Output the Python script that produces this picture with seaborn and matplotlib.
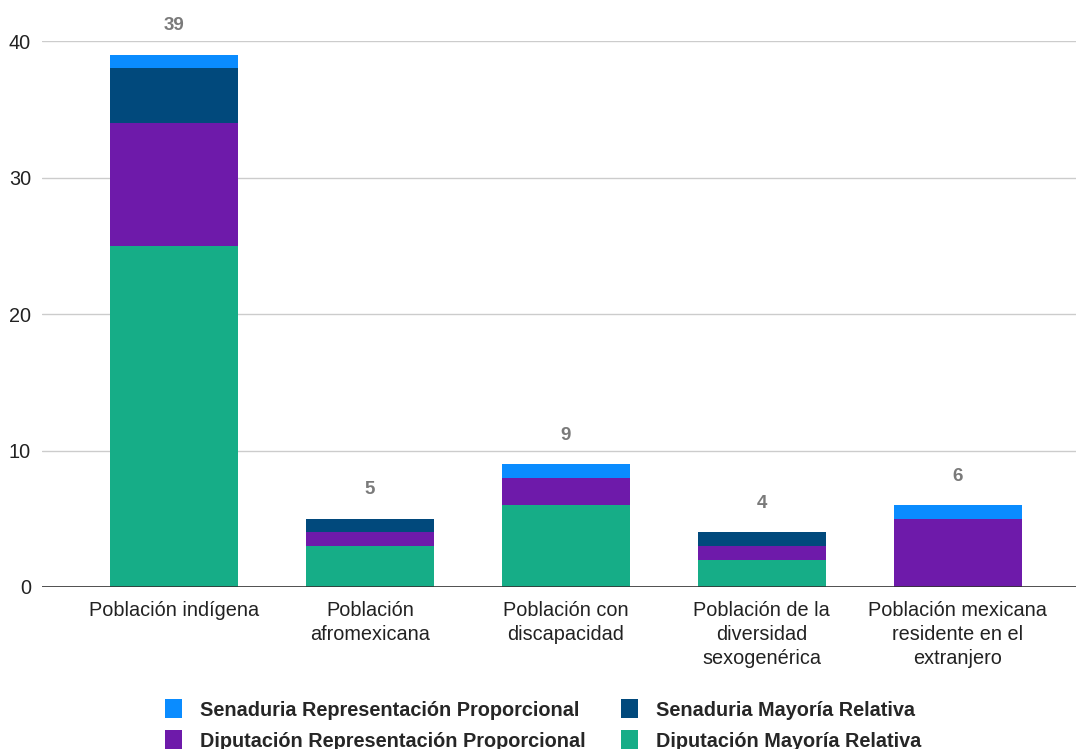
import matplotlib
matplotlib.use("Agg")
import matplotlib.pyplot as plt
import seaborn as sns
import pandas as pd
import numpy as np

categories = [
    "Población indígena",
    "Población\nafromexicana",
    "Población con\ndiscapacidad",
    "Población de la\ndiversidad\nsexogenérica",
    "Población mexicana\nresidente en el\nextranjero",
]
series = [
    "Diputación Mayoría Relativa",
    "Diputación Representación Proporcional",
    "Senaduria Mayoría Relativa",
    "Senaduria Representación Proporcional",
]
dip_mr = [25, 3, 6, 2, 0]
dip_rp = [9, 1, 2, 1, 5]
sen_mr = [4, 1, 0, 1, 0]
sen_rp = [1, 0, 1, 0, 1]
colors = ["#16AD87", "#6E1AAA", "#01497C", "#0A8CFF"]

sns.set_theme(style="white")
plt.rcParams["font.family"] = ["Liberation Sans", "DejaVu Sans"]

values = np.array([dip_mr, dip_rp, sen_mr, sen_rp])
cum = values.cumsum(axis=0)
totals = cum[-1]

fig = plt.figure(figsize=(10.76, 7.49), dpi=100)
ax = fig.add_axes([0.039, 0.2163, 0.9738, 0.7289])

# draw stacked layers from top (largest cumulative) down
for i in range(len(series) - 1, -1, -1):
    df = pd.DataFrame({"cat": categories, "val": cum[i]})
    sns.barplot(data=df, x="cat", y="val", color=colors[i], width=0.653,
                saturation=1, ax=ax, zorder=2, label=series[i], linewidth=0)
if ax.get_legend() is not None:
    ax.get_legend().remove()

for x, t in enumerate(totals):
    ax.text(x, t + 1.5, str(t), ha="center", va="bottom", fontsize=13.5,
            fontweight="bold", color="#7a7a7a", clip_on=False)

ax.set_xlim(-0.673, 4.673)
ax.set_ylim(0, 40)
ax.set_yticks([0, 10, 20, 30, 40])
ax.yaxis.grid(True, color="#cccccc", linewidth=1, zorder=0)
ax.set_axisbelow(True)
ax.axhline(0, color="#333333", linewidth=1.2, zorder=3)
sns.despine(ax=ax, left=True, bottom=True, top=True, right=True)
ax.set_xlabel("")
ax.set_ylabel("")
ax.tick_params(axis="both", length=0, labelsize=14.3, colors="#222222")
ax.tick_params(axis="y", pad=8)
ax.tick_params(axis="x", pad=10)
for lbl in ax.get_xticklabels():
    lbl.set_linespacing(1.35)

handles, labels = ax.get_legend_handles_labels()
lookup = dict(zip(labels, handles))
order = [
    "Senaduria Representación Proporcional",
    "Diputación Representación Proporcional",
    "Senaduria Mayoría Relativa",
    "Diputación Mayoría Relativa",
]
fig.legend([lookup[o] for o in order], order, loc="center",
           bbox_to_anchor=(0.505, 0.032), ncol=2, frameon=False,
           prop={"weight": "bold", "size": 14.3}, handlelength=0.85,
           handleheight=1.1, columnspacing=1.8, labelspacing=0.55,
           handletextpad=0.9)

fig.savefig("out.png", dpi=100)
